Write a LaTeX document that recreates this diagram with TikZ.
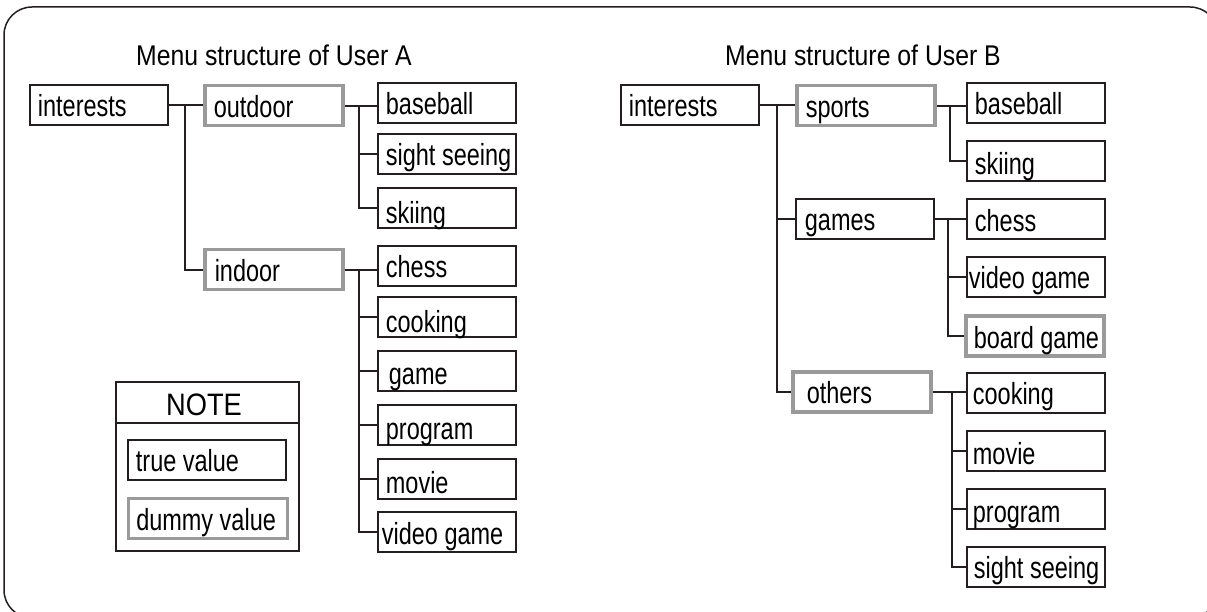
\documentclass[tikz,border=0pt]{standalone}
\usepackage{fontspec}
\setmainfont{Liberation Sans}[FakeStretch=0.77]
\newfontfamily\headfont{Liberation Sans}[FakeStretch=0.87]
\newfontfamily\notefont{Liberation Sans}[FakeStretch=0.88]
\definecolor{ink}{HTML}{231F20}
\definecolor{dummygray}{HTML}{9A9A9A}
\def\cellwidth{138pt}
% left-aligned label inside a fixed-width cell, optional inset in pt
\newcommand\cell[2][8]{\makebox[\cellwidth][l]{\hspace*{#1pt}#2}}
\tikzset{
  box/.style={draw=ink, line width=1.8pt, anchor=north west,
    inner xsep=0pt, inner ysep=0pt, text height=32pt, text depth=8pt,
    font=\fontsize{30.5}{32}\selectfont},
  dummy/.style={box, draw=dummygray, line width=3.5pt},
  cellw/.code={\def\cellwidth{#1}},
  conn/.style={draw=ink, line width=1.8pt},
  heading/.style={anchor=base, inner sep=0pt, font=\headfont\fontsize{28.5}{30}\selectfont},
}
\begin{document}
\begin{tikzpicture}[x=1pt,y=-1pt]
\useasboundingbox (0,0) rectangle (1207,612);
% outer frame, partly running off the page
\begin{scope}
  \clip (0,0) rectangle (1207,612);
  \draw[line width=1.5pt, ink, rounded corners=28pt] (4,7) rectangle (1218,618);
\end{scope}

% ---------- User A ----------
\node[heading] (a-title) at (274,66) {Menu structure of User A};
\node[box]   (a-int) at (29,84)  {\cell{interests}};
\node[dummy] (a-out) at (203,84) {\cell[9]{outdoor}};
\node[dummy] (a-in)  at (203,248) {\cell[10]{indoor}};
\node[box]   (a-o1) at (377,82)  {\cell{baseball}};
\node[box]   (a-o2) at (377,133) {\cell[8]{sight seeing}};
\node[box, text depth=4pt, text height=36pt] (a-o3) at (377,187) {\cell{skiing}};
\node[box]   (a-i1) at (377,245) {\cell{chess}};
\node[box, text depth=4pt, text height=36pt] (a-i2) at (377,296) {\cell{cooking}};
\node[box, text depth=6pt, text height=34pt] (a-i3) at (377,350) {\cell[11]{game}};
\node[box, text depth=5pt, text height=35pt] (a-i4) at (377,404) {\cell{program}};
\node[box, text depth=5pt, text height=35pt] (a-i5) at (377,458) {\cell{movie}};
\node[box, text depth=7pt, text height=33pt] (a-i6) at (377,511) {\cell[4]{video game}};

\coordinate (ja) at (185,0);
\coordinate (jb) at (359,0);
\draw[conn] (a-int.east) -- (a-int.east -| a-out.west);
\draw[conn] (a-int.east -| ja) |- (a-in.west);
\draw[conn] (a-out.east) -- (a-out.east -| a-o1.west);
\draw[conn] (a-out.east -| jb) |- (a-o3.west);
\draw[conn] (jb |- a-o2.west) -- (a-o2.west);
\draw[conn] (a-in.east) -- (a-in.east -| a-i1.west);
\draw[conn] (a-in.east -| jb) |- (a-i6.west);
\foreach \n in {a-i2,a-i3,a-i4,a-i5}
  \draw[conn] (jb |- \n.west) -- (\n.west);

% legend
\node[draw=ink, line width=1.8pt, anchor=north west, minimum width=183pt,
  minimum height=169pt, inner sep=0pt] (note) at (115,381) {};
\coordinate (nd) at (0,423);
\draw[conn] (note.west |- nd) -- (note.east |- nd);
\node[heading, font=\notefont\fontsize{31}{32}\selectfont] (note-title) at (204,415.5) {NOTE};
\node[box, cellw=158pt] (true-v) at (127,439) {\cell{true value}};
\node[dummy, cellw=159pt] (dummy-v) at (126.5,496.5) {\cell{dummy value}};

% ---------- User B ----------
\node[heading] (b-title) at (863,66) {Menu structure of User B};
\node[box]   (b-int) at (620,84)  {\cell{interests}};
\node[dummy] (b-sp)  at (795,84)  {\cell[9]{sports}};
\node[box]   (b-ga)  at (795,198) {\cell[9]{games}};
\node[dummy] (b-ot)  at (791,370) {\cell[14]{others}};
\node[box]   (b-s1) at (966,82)  {\cell{baseball}};
\node[box, text depth=6pt, text height=34pt] (b-s2) at (966,140) {\cell{skiing}};
\node[box, text depth=7pt, text height=33pt] (b-g1) at (966,198) {\cell{chess}};
\node[box]   (b-g2) at (966,256) {\cell[2]{video game}};
\node[dummy, text depth=7pt, text height=33pt] (b-g3) at (964,314) {\cell[8]{board game}};
\node[box]   (b-o1) at (966,372) {\cell[6]{cooking}};
\node[box, text depth=6pt, text height=34pt] (b-o2) at (966,430) {\cell[6]{movie}};
\node[box, text depth=6pt, text height=34pt] (b-o3) at (966,488) {\cell[6]{program}};
\node[box]   (b-o4) at (966,546) {\cell[7]{sight seeing}};

\coordinate (jc) at (777,0);
\coordinate (jd) at (950,0);
\coordinate (je) at (948,0);
\coordinate (jf) at (952,0);
\draw[conn] (b-int.east) -- (b-int.east -| b-sp.west);
\draw[conn] (b-int.east -| jc) |- (b-ot.west);
\draw[conn] (jc |- b-ga.west) -- (b-ga.west);
\draw[conn] (b-sp.east) -- (b-sp.east -| b-s1.west);
\draw[conn] (b-sp.east -| jd) |- (b-s2.west);
\draw[conn] (b-ga.east) -- (b-ga.east -| b-g1.west);
\draw[conn] (b-ga.east -| je) |- (b-g3.west);
\draw[conn] (je |- b-g2.west) -- (b-g2.west);
\draw[conn] (b-ot.east) -- (b-ot.east -| b-o1.west);
\draw[conn] (b-ot.east -| jf) |- (b-o4.west);
\foreach \n in {b-o2,b-o3}
  \draw[conn] (jf |- \n.west) -- (\n.west);
\end{tikzpicture}
\end{document}
